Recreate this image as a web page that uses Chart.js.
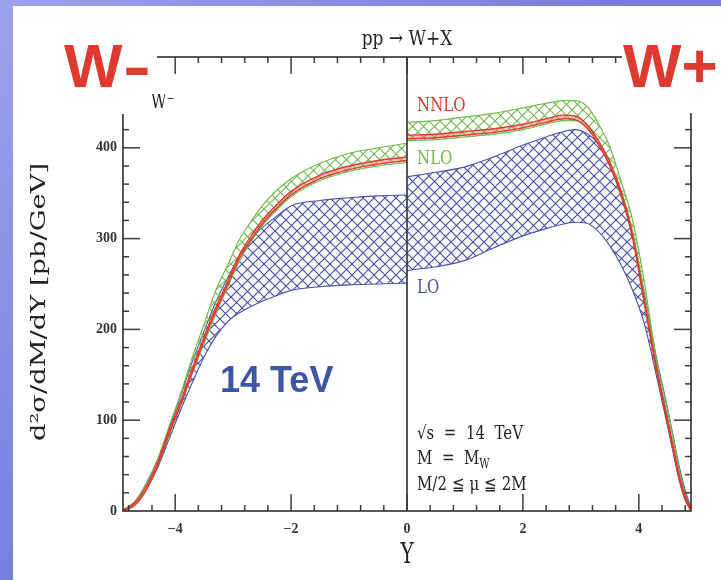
<!DOCTYPE html>
<html>
<head>
<meta charset="utf-8">
<script src="https://cdn.jsdelivr.net/npm/chart.js@4.4.1/dist/chart.umd.min.js"></script>
<style>
  html, body { margin: 0; padding: 0; }
  body {
    width: 721px; height: 580px; overflow: hidden; position: relative;
    background: linear-gradient(135deg, #9aa2ec 0%, #7680dc 45%, #6a70cc 100%);
  }
  #panel { position: absolute; left: 13px; top: 6px; right: 0; bottom: 0; background: #fff; }
  #wrap { position: absolute; left: 0; top: 0; width: 721px; height: 580px; }
</style>
</head>
<body>
<div id="panel"></div>
<div id="wrap"><canvas id="chart"></canvas></div>
<script>
// rapidity grid, W- side (left) and W+ side (right)
const yMinus = [-4.9, -4.7, -4.5, -4.3, -4.1, -3.9, -3.7, -3.5, -3.3, -3.1, -2.9, -2.7, -2.5, -2.3, -2.0, -1.5, -1.0, -0.5, 0];
const yPlus = [0, 0.5, 1.0, 1.5, 2.0, 2.4, 2.7, 2.9, 3.1, 3.3, 3.5, 3.7, 3.9, 4.1, 4.3, 4.5, 4.6, 4.7, 4.8, 4.9];

// LO band (blue)
const loLowMinus  = [0, 7, 24, 48, 80, 112, 142, 170, 192, 208, 218, 225, 231, 236, 243, 247, 249, 250, 251];
const loHighMinus = [1, 10, 30, 57, 92, 128, 165, 198, 230, 256, 280, 298, 312, 322, 336, 342, 345, 347, 348];
const loLowPlus   = [265, 269, 276, 290, 303, 311, 316, 318, 317, 308, 292, 270, 242, 205, 150, 92, 62, 33, 12, 0];
const loHighPlus  = [368, 373, 379, 390, 403, 412, 418, 420, 416, 404, 380, 348, 302, 238, 170, 112, 80, 48, 23, 4];

// NLO band (green)
const nloLowMinus  = [0, 7, 24, 50, 84, 117, 152, 185, 216, 246, 274, 296, 314, 328, 346, 364, 374, 380, 384];
const nloHighMinus = [1, 10, 30, 57, 94, 130, 170, 206, 243, 270, 298, 318, 336, 350, 366, 383, 394, 400, 405];
const nloLowPlus   = [408, 409, 412, 415, 420, 426, 430, 430, 423, 408, 385, 352, 306, 236, 163, 102, 70, 39, 16, 1];
const nloHighPlus  = [428, 430, 434, 438, 444, 449, 452, 452, 446, 427, 401, 362, 318, 250, 168, 110, 78, 44, 20, 3];

// NNLO band (red)
const nnloLowMinus  = [0, 6, 23, 50, 86, 118, 154, 188, 220, 248, 277, 298, 316, 330, 348, 366, 376, 382, 386];
const nnloHighMinus = [1, 9, 27, 54, 90, 122, 158, 192, 224, 252, 281, 302, 320, 334, 352, 370, 380, 386, 390];
const nnloLowPlus   = [410, 411, 414, 417, 422, 428, 432, 431, 422, 404, 380, 346, 298, 226, 156, 95, 64, 34, 13, 0];
const nnloHighPlus  = [414, 415, 418, 421, 426, 432, 436, 435, 426, 408, 384, 350, 302, 230, 160, 99, 68, 38, 17, 2];

const xTicks = [-4, -2, 0, 2, 4];
const yTicks = [0, 100, 200, 300, 400];

const BLUE = '#4a52ad';
const GREEN = '#72bb4c';
const RED = '#e0392f';
const SERIF = '"DejaVu Serif", serif';

const canvas = document.getElementById('chart');
const mainCtx = canvas.getContext('2d');

// cross-hatch fill like the original plot
function hatch(color) {
    const c = document.createElement('canvas');
    c.width = 11; c.height = 11;
    const g = c.getContext('2d');
    g.strokeStyle = color;
    g.lineWidth = 1.1;
    g.beginPath();
    g.moveTo(0, 0); g.lineTo(11, 11);
    g.moveTo(0, 11); g.lineTo(11, 0);
    g.stroke();
    return mainCtx.createPattern(c, 'repeat');
}

const pts = (xs, ys) => xs.map((x, i) => ({ x: x, y: ys[i] }));

function band(xs, lo, hi, color, fill, width, order) {
    const base = {
        borderColor: color,
        borderWidth: width,
        pointRadius: 0,
        cubicInterpolationMode: 'monotone',
        order: order
    };
    return [
        Object.assign({ data: pts(xs, lo), fill: false }, base),
        Object.assign({ data: pts(xs, hi), fill: '-1', backgroundColor: fill }, base)
    ];
}

const blueHatch = hatch('rgba(66,74,168,1)');
const greenHatch = hatch('rgba(110,184,72,1)');
const redFill = 'rgba(236,120,110,0.45)';

const datasets = [
    ...band(yMinus, loLowMinus, loHighMinus, BLUE, blueHatch, 1.1, 3),
    ...band(yMinus, nloLowMinus, nloHighMinus, GREEN, greenHatch, 1.2, 2),
    ...band(yMinus, nnloLowMinus, nnloHighMinus, RED, redFill, 1.4, 1),
    ...band(yPlus, loLowPlus, loHighPlus, BLUE, blueHatch, 1.1, 3),
    ...band(yPlus, nloLowPlus, nloHighPlus, GREEN, greenHatch, 1.2, 2),
    ...band(yPlus, nnloLowPlus, nnloHighPlus, RED, redFill, 1.4, 1)
];

function drawText(ctx, str, x, y, font, color, align, sy, sx) {
    ctx.save();
    ctx.font = font;
    ctx.fillStyle = color;
    ctx.textAlign = align || 'left';
    ctx.translate(x, y);
    ctx.scale(sx || 1, sy || 1);
    ctx.fillText(str, 0, 0);
    ctx.restore();
}

function seg(ctx, x1, y1, x2, y2) {
    ctx.beginPath();
    ctx.moveTo(x1, y1);
    ctx.lineTo(x2, y2);
    ctx.stroke();
}

// frame with inward ticks on all four sides, plus the Y=0 divider
const framePlugin = {
    id: 'frame',
    afterDatasetsDraw(chart) {
        const { ctx, chartArea: a, scales: { x, y } } = chart;
        ctx.save();
        ctx.strokeStyle = '#3a3a3a';
        ctx.lineWidth = 1.7;
        ctx.strokeRect(a.left, a.top, a.right - a.left, a.bottom - a.top);
        const x0 = x.getPixelForValue(0);
        seg(ctx, x0, a.top, x0, a.bottom);

        ctx.lineWidth = 1.5;
        for (let v = -4.8; v <= 4.85; v += 0.4) {
            const r = Math.round(v * 10) / 10;
            const major = xTicks.includes(r);
            const px = x.getPixelForValue(r);
            const len = major ? 17 : 6;
            seg(ctx, px, a.bottom, px, a.bottom - len);
            seg(ctx, px, a.top, px, a.top + len);
        }
        for (let v = 20; v < 500; v += 20) {
            const major = yTicks.includes(v);
            const py = y.getPixelForValue(v);
            const len = major ? 17 : 6;
            seg(ctx, a.left, py, a.left + len, py);
            seg(ctx, a.right, py, a.right - len, py);
        }
        ctx.restore();
    },
    afterDraw(chart) {
        const { ctx, scales: { x } } = chart;
        const x0 = x.getPixelForValue(0);
        ctx.save();

        // white boxes behind the big W labels hide the frame corners
        ctx.fillStyle = '#fff';
        ctx.fillRect(13, 6, 157 - 13, 114 - 6);
        ctx.fillRect(622, 6, 721 - 622, 113 - 6);

        drawText(ctx, 'W', 64, 87, 'bold 62px "Liberation Sans"', RED, 'left');
        drawText(ctx, '-', 123, 87, 'bold 62px "Liberation Sans"', RED, 'left', 1, 1.35);
        drawText(ctx, 'W+', 623, 87, 'bold 62px "Liberation Sans"', RED, 'left');

        // partly hidden W- label of the original plot
        ctx.save();
        ctx.beginPath();
        ctx.rect(140, 94, 40, 20);
        ctx.clip();
        drawText(ctx, 'W\u207B', 151, 108, '15px ' + SERIF, '#222', 'left', 1.3);
        ctx.restore();

        drawText(ctx, 'pp \u2192 W+X', x0, 45, '17px ' + SERIF, '#222', 'center', 1.25);

        drawText(ctx, 'NNLO', 417, 111, '15px ' + SERIF, RED, 'left', 1.25);
        drawText(ctx, 'NLO', 417, 164, '15px ' + SERIF, GREEN, 'left', 1.25);
        drawText(ctx, 'LO', 417, 293, '15px ' + SERIF, BLUE, 'left', 1.25);

        drawText(ctx, '14 TeV', 220, 392, 'bold 36px "Liberation Sans"', '#3d55a5', 'left');

        drawText(ctx, '\u221As  =  14  TeV', 417, 439, '15px ' + SERIF, '#222', 'left', 1.2);
        drawText(ctx, 'M  =  M', 417, 464, '15px ' + SERIF, '#222', 'left', 1.2);
        ctx.font = '15px ' + SERIF;
        const mw = ctx.measureText('M  =  M').width;
        drawText(ctx, 'W', 417 + mw, 468, '10px ' + SERIF, '#222', 'left', 1.2);
        drawText(ctx, 'M/2 \u2266 \u03BC \u2266 2M', 417, 490, '15px ' + SERIF, '#222', 'left', 1.2);

        // axis titles
        drawText(ctx, 'Y', x0, 563, '20px ' + SERIF, '#222', 'center', 1.35);
        ctx.save();
        ctx.translate(45, 302);
        ctx.rotate(-Math.PI / 2);
        ctx.scale(1.3, 1);
        ctx.font = '21px ' + SERIF;
        ctx.fillStyle = '#222';
        ctx.textAlign = 'center';
        ctx.fillText('d\u00B2\u03C3/dM/dY [pb/GeV]', 0, 0);
        ctx.restore();

        ctx.restore();
    }
};

const tickFont = { family: 'Liberation Serif', size: 14, weight: 'bold' };

new Chart(canvas, {
    type: 'line',
    data: { datasets: datasets },
    options: {
        responsive: true,
        maintainAspectRatio: false,
        animation: false,
        layout: { padding: { left: 13, top: 57, right: 30, bottom: 11 } },
        plugins: {
            legend: { display: false },
            tooltip: { enabled: false },
            filler: { propagate: false }
        },
        scales: {
            x: {
                type: 'linear',
                min: -4.9,
                max: 4.9,
                grid: { display: false, drawTicks: false },
                border: { display: false },
                afterBuildTicks: (s) => { s.ticks = xTicks.map(v => ({ value: v })); },
                afterFit: (s) => { s.height = 58; },
                ticks: {
                    padding: 10,
                    color: '#333',
                    font: tickFont,
                    maxRotation: 0,
                    callback: (v) => v < 0 ? '\u2212' + Math.abs(v) : String(v)
                }
            },
            y: {
                type: 'linear',
                min: 0,
                max: 500,
                grid: { display: false, drawTicks: false },
                border: { display: false },
                afterBuildTicks: (s) => { s.ticks = yTicks.map(v => ({ value: v })); },
                afterFit: (s) => { s.width = 110; },
                ticks: { padding: 6, color: '#333', font: tickFont }
            }
        }
    },
    plugins: [framePlugin]
});
</script>
</body>
</html>
